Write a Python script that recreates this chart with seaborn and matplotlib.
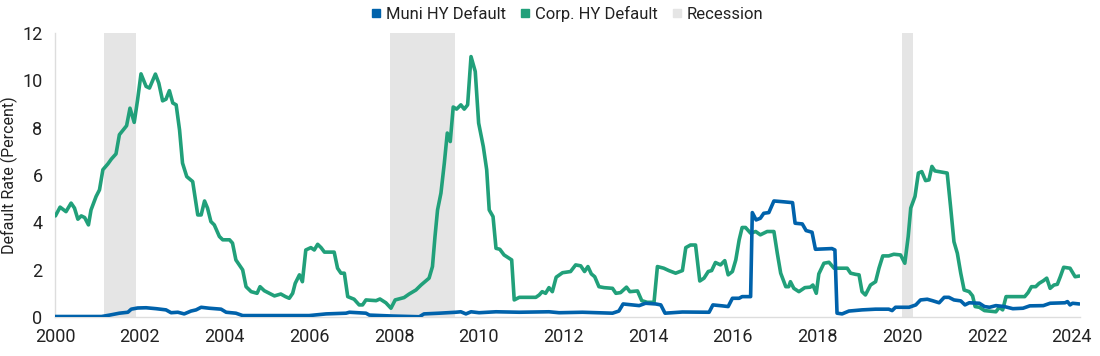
import matplotlib
matplotlib.use("Agg")
import matplotlib.pyplot as plt
import seaborn as sb
from matplotlib.lines import Line2D

# corporate high-yield default rate (percent)
corp_dates = [2000.01, 2000.12, 2000.26, 2000.38, 2000.46, 2000.54, 2000.62, 2000.70, 2000.79, 2000.85,
              2000.97, 2001.05, 2001.13, 2001.25, 2001.33, 2001.44, 2001.52, 2001.69, 2001.77, 2001.87,
              2001.95, 2002.03, 2002.15, 2002.23, 2002.37, 2002.45, 2002.54, 2002.62, 2002.70, 2002.78,
              2002.86, 2002.94, 2003.01, 2003.11, 2003.25, 2003.37, 2003.45, 2003.53, 2003.60, 2003.68,
              2003.76, 2003.88, 2003.96, 2004.12, 2004.19, 2004.27, 2004.43, 2004.51, 2004.63, 2004.77,
              2004.84, 2004.94, 2005.06, 2005.18, 2005.33, 2005.44, 2005.53, 2005.61, 2005.67, 2005.77,
              2005.84, 2005.92, 2006.04, 2006.12, 2006.20, 2006.28, 2006.36, 2006.59, 2006.67, 2006.75,
              2006.83, 2006.91, 2007.06, 2007.18, 2007.26, 2007.34, 2007.58, 2007.67, 2007.81, 2007.93,
              2008.03, 2008.24, 2008.36, 2008.52, 2008.64, 2008.83, 2008.91, 2008.97, 2009.03, 2009.11,
              2009.19, 2009.26, 2009.33, 2009.40, 2009.48, 2009.58, 2009.66, 2009.74, 2009.82, 2009.92,
              2010.00, 2010.11, 2010.19, 2010.25, 2010.34, 2010.41, 2010.50, 2010.60, 2010.78, 2010.84,
              2010.96, 2011.35, 2011.43, 2011.50, 2011.58, 2011.66, 2011.74, 2011.83, 2011.98, 2012.17,
              2012.29, 2012.41, 2012.50, 2012.58, 2012.66, 2012.74, 2012.84, 2012.96, 2013.16, 2013.24,
              2013.35, 2013.49, 2013.57, 2013.75, 2013.85, 2013.98, 2014.14, 2014.22, 2014.37, 2014.49,
              2014.65, 2014.81, 2014.89, 2015.00, 2015.12, 2015.22, 2015.32, 2015.42, 2015.50, 2015.59,
              2015.71, 2015.81, 2015.89, 2015.99, 2016.07, 2016.15, 2016.22, 2016.30, 2016.42, 2016.54,
              2016.65, 2016.81, 2016.97, 2017.05, 2017.13, 2017.25, 2017.32, 2017.36, 2017.44, 2017.56,
              2017.70, 2017.83, 2017.89, 2017.97, 2018.03, 2018.15, 2018.27, 2018.39, 2018.70, 2018.78,
              2018.90, 2018.98, 2019.05, 2019.13, 2019.25, 2019.37, 2019.45, 2019.54, 2019.68, 2019.80,
              2019.96, 2020.06, 2020.14, 2020.20, 2020.30, 2020.38, 2020.46, 2020.55, 2020.63, 2020.70,
              2020.77, 2020.87, 2020.99, 2021.06, 2021.14, 2021.22, 2021.30, 2021.38, 2021.46, 2021.58,
              2021.66, 2021.72, 2021.82, 2021.94, 2022.21, 2022.29, 2022.37, 2022.45, 2022.57, 2022.89,
              2022.97, 2023.05, 2023.15, 2023.23, 2023.33, 2023.41, 2023.49, 2023.58, 2023.66, 2023.73,
              2023.81, 2023.96, 2024.08, 2024.18]
corp_vals = [4.27, 4.64, 4.45, 4.81, 4.6, 4.13, 4.27, 4.2, 3.89, 4.52,
             5.09, 5.37, 6.22, 6.47, 6.67, 6.89, 7.7, 8.08, 8.82, 8.22,
             9.18, 10.27, 9.74, 9.67, 10.26, 9.88, 9.13, 9.2, 9.56, 9.04,
             8.96, 7.9, 6.5, 5.93, 5.72, 4.31, 4.31, 4.9, 4.6, 4.03,
             3.89, 3.4, 3.26, 3.26, 3.12, 2.41, 1.99, 1.28, 1.07, 1.0,
             1.28, 1.11, 1.0, 0.89, 0.97, 0.86, 0.79, 1.0, 1.42, 1.78,
             1.49, 2.83, 2.93, 2.83, 3.07, 2.93, 2.74, 2.74, 2.06, 1.85,
             1.85, 0.86, 0.75, 0.51, 0.51, 0.72, 0.69, 0.76, 0.6, 0.37,
             0.72, 0.82, 0.97, 1.14, 1.35, 1.64, 2.13, 3.4, 4.52, 5.23,
             6.5, 7.77, 7.41, 8.87, 8.78, 8.96, 8.78, 8.96, 11.0, 10.37,
             8.19, 7.2, 6.22, 4.52, 4.24, 2.9, 2.86, 2.62, 2.41, 0.72,
             0.83, 0.83, 0.93, 1.07, 1.0, 1.24, 1.07, 1.68, 1.87, 1.92,
             2.2, 2.16, 1.92, 2.13, 1.82, 1.7, 1.28, 1.24, 1.21, 1.0,
             1.03, 1.26, 1.07, 1.1, 0.69, 0.62, 0.62, 2.13, 2.06, 1.96,
             1.85, 1.96, 2.93, 3.04, 3.04, 1.52, 1.64, 1.92, 1.96, 2.3,
             2.2, 2.38, 1.78, 1.92, 2.41, 3.26, 3.78, 3.78, 3.54, 3.61,
             3.47, 3.61, 3.61, 2.69, 1.85, 1.28, 1.28, 1.49, 1.21, 1.07,
             1.24, 1.26, 1.35, 1.0, 1.82, 2.27, 2.31, 2.06, 2.06, 1.85,
             1.8, 1.78, 1.07, 0.93, 1.35, 1.49, 2.06, 2.58, 2.58, 2.65,
             2.62, 2.27, 3.4, 4.6, 5.09, 6.08, 6.14, 5.76, 5.79, 6.36,
             6.17, 6.14, 6.1, 6.08, 4.66, 3.18, 2.69, 1.85, 1.14, 1.07,
             0.89, 0.44, 0.41, 0.27, 0.22, 0.41, 0.3, 0.86, 0.86, 0.86,
             1.03, 1.28, 1.28, 1.42, 1.53, 1.64, 1.21, 1.35, 1.38, 1.7,
             2.1, 2.06, 1.7, 1.73]

# municipal high-yield default rate (percent)
muni_dates = [2000.00, 2001.10, 2001.29, 2001.52, 2001.72, 2001.80, 2001.95, 2002.15, 2002.39, 2002.62,
              2002.74, 2002.90, 2003.05, 2003.21, 2003.33, 2003.45, 2003.64, 2003.92, 2004.04, 2004.27,
              2004.43, 2006.00, 2006.40, 2006.87, 2006.95, 2007.34, 2007.42, 2007.97, 2008.60, 2008.71,
              2009.07, 2009.46, 2009.58, 2009.70, 2009.82, 2010.01, 2010.41, 2010.96, 2011.66, 2011.90,
              2012.45, 2013.16, 2013.31, 2013.41, 2013.79, 2013.94, 2014.18, 2014.30, 2014.40, 2014.81,
              2015.44, 2015.53, 2015.75, 2015.89, 2015.99, 2016.15, 2016.22, 2016.42, 2016.46, 2016.55,
              2016.65, 2016.73, 2016.85, 2016.97, 2017.17, 2017.41, 2017.47, 2017.64, 2017.73, 2017.87,
              2017.95, 2018.34, 2018.41, 2018.46, 2018.58, 2018.74, 2019.05, 2019.37, 2019.68, 2019.76,
              2019.84, 2020.16, 2020.32, 2020.43, 2020.59, 2020.71, 2020.87, 2020.99, 2021.10, 2021.22,
              2021.38, 2021.48, 2021.58, 2021.82, 2021.94, 2022.06, 2022.21, 2022.41, 2022.61, 2022.85,
              2023.01, 2023.33, 2023.49, 2023.84, 2023.90, 2023.96, 2024.02, 2024.18]
muni_vals = [0.02, 0.02, 0.08, 0.16, 0.2, 0.33, 0.38, 0.39, 0.35, 0.3,
             0.18, 0.2, 0.13, 0.25, 0.3, 0.41, 0.37, 0.33, 0.2, 0.16,
             0.06, 0.06, 0.13, 0.16, 0.2, 0.16, 0.08, 0.04, 0.01, 0.13,
             0.16, 0.2, 0.22, 0.13, 0.22, 0.18, 0.22, 0.2, 0.22, 0.18,
             0.2, 0.16, 0.25, 0.55, 0.48, 0.58, 0.55, 0.51, 0.16, 0.21,
             0.2, 0.51, 0.47, 0.44, 0.79, 0.79, 0.86, 0.86, 4.41, 4.1,
             4.17, 4.38, 4.41, 4.9, 4.87, 4.83, 3.96, 3.93, 3.65, 3.58,
             2.86, 2.89, 2.83, 0.16, 0.13, 0.25, 0.3, 0.33, 0.33, 0.27,
             0.41, 0.41, 0.51, 0.72, 0.75, 0.69, 0.6, 0.83, 0.83, 0.72,
             0.68, 0.51, 0.6, 0.58, 0.44, 0.41, 0.48, 0.44, 0.35, 0.37,
             0.47, 0.48, 0.58, 0.6, 0.65, 0.51, 0.58, 0.55]

# recession periods
rec_start = [2001.15, 2007.91, 2020.00]
rec_end = [2001.91, 2009.44, 2020.25]

year_ticks = list(range(2000, 2025, 2))
rate_ticks = list(range(0, 13, 2))

BLUE = "#0062AB"
GREEN = "#21A07A"
GREY = "#E5E5E5"
TXT = "#222222"

sb.set_style("white")
plt.rcParams['font.family'] = ['Roboto', 'DejaVu Sans']

fig = plt.figure(figsize=(11, 3.56), dpi=100)
ax = fig.add_axes([0.05, 0.1096, 0.932, 0.798])

for s, e in zip(rec_start, rec_end):
    ax.axvspan(s, e, color=GREY, lw=0, zorder=0)

sb.lineplot(x=corp_dates, y=corp_vals, ax=ax, color=GREEN, lw=2.6, zorder=3)
sb.lineplot(x=muni_dates, y=muni_vals, ax=ax, color=BLUE, lw=2.6, zorder=4)

ax.set_xlim(2000, 2024.2)
ax.set_ylim(0, 12)
ax.set_xticks(year_ticks)
ax.set_xticklabels([str(y) for y in year_ticks])
ax.set_yticks(rate_ticks)
ax.tick_params(axis='x', length=0, pad=8, labelsize=13, labelcolor=TXT)
# short grid stubs drawn as inward ticks
ax.tick_params(axis='y', direction='in', length=19, width=1, color='#DDDDDD',
               pad=9, labelsize=13, labelcolor=TXT)

for side in ['top', 'right']:
    ax.spines[side].set_visible(False)
for side in ['left', 'bottom']:
    ax.spines[side].set_color('#DDDDDD')
    ax.spines[side].set_linewidth(1)

ax.set_ylabel("Default Rate (Percent)", fontsize=11.5, color=TXT)
ax.yaxis.set_label_coords(-0.036, 0.5)

handles = [
    Line2D([], [], ls='', marker='s', markersize=5.5, color=BLUE),
    Line2D([], [], ls='', marker='s', markersize=5.5, color=GREEN),
    Line2D([], [], ls='', marker='s', markersize=5.5, color=GREY),
]
ax.legend(handles, ["Muni HY Default", "Corp. HY Default", "Recession"],
          loc='center', bbox_to_anchor=(0.5, 1.067), ncol=3, frameon=False,
          fontsize=12, handlelength=0.5, handletextpad=0.35, columnspacing=0.9,
          labelcolor=TXT)

fig.savefig("out.png", dpi=100)
